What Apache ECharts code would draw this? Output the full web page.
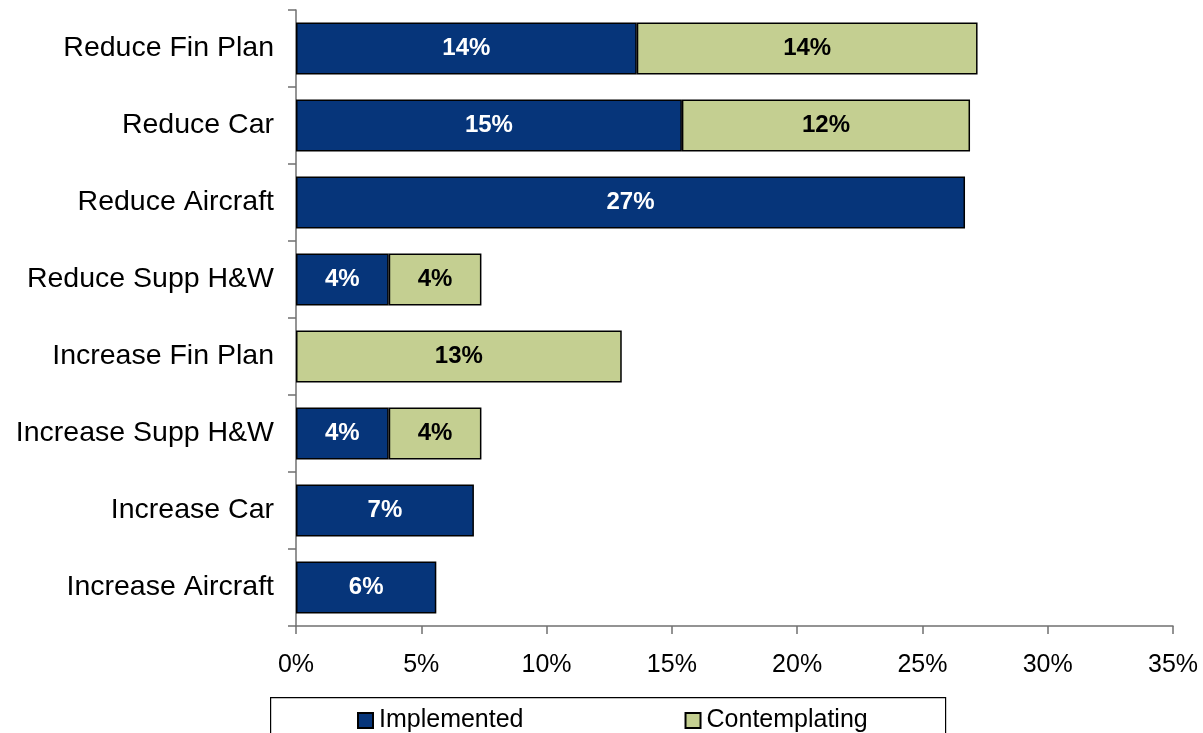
<!DOCTYPE html>
<html>
<head>
<meta charset="utf-8">
<script src="https://cdn.jsdelivr.net/npm/echarts@6/dist/echarts.min.js"></script>
<style>html,body{margin:0;padding:0;background:#fff;}#c{width:1203px;height:733px;}</style>
</head>
<body>
<div id="c"></div>
<script>
const categories = ["Reduce Fin Plan","Reduce Car","Reduce Aircraft","Reduce Supp H&W","Increase Fin Plan","Increase Supp H&W","Increase Car","Increase Aircraft"];
const implemented = [13.6, 15.4, 26.7, 3.7, 0, 3.7, 7.1, 5.6];
const contemplating = [13.6, 11.5, 0, 3.7, 13.0, 3.7, 0, 0];
const xTicks = [0, 5, 10, 15, 20, 25, 30, 35];

const FONT = '"Liberation Sans", Arial, sans-serif';
const chart = echarts.init(document.getElementById('c'), null, {renderer: 'canvas'});
const toData = arr => arr.map(v => v === 0 ? null : v);
const lbl = color => ({
  show: true, position: 'inside', color: color, fontFamily: FONT, fontWeight: 'bold', fontSize: 24,
  formatter: p => (p.value == null ? '' : Math.round(p.value) + '%')
});
chart.setOption({
  animation: false,
  backgroundColor: '#fff',
  grid: {left: 296, right: 30, top: 10, bottom: 107, containLabel: false},
  xAxis: {
    type: 'value', min: xTicks[0], max: xTicks[xTicks.length - 1], interval: 5,
    axisLine: {show: true, lineStyle: {color: '#707070', width: 1.5}},
    axisTick: {show: true, length: 8, lineStyle: {color: '#707070', width: 1.5}},
    splitLine: {show: false},
    axisLabel: {formatter: '{value}%', color: '#000', fontFamily: FONT, fontSize: 25, margin: 27}
  },
  yAxis: {
    type: 'category', data: categories, inverse: true,
    axisLine: {show: true, lineStyle: {color: '#707070', width: 1.5}},
    axisTick: {show: true, length: 8, lineStyle: {color: '#707070', width: 1.5}},
    axisLabel: {color: '#000', fontFamily: FONT, fontSize: 28.5, margin: 22}
  },
  legend: {
    left: 352, top: 703, itemWidth: 15, itemHeight: 15, itemGap: 161,
    icon: 'rect',
    textStyle: {color: '#000', fontFamily: FONT, fontSize: 25, padding: [0, 0, 0, 1]},
    data: ['Implemented', 'Contemplating']
  },
  graphic: [{
    type: 'rect', left: 270, top: 697, z: -1,
    shape: {width: 675, height: 60},
    style: {fill: '#fff', stroke: '#000', lineWidth: 1.2}
  }],
  series: [
    {name: 'Implemented', type: 'bar', stack: 's', data: toData(implemented), barWidth: '67.5%',
     itemStyle: {color: '#06357A', borderColor: '#000', borderWidth: 1.5}, label: lbl('#fff')},
    {name: 'Contemplating', type: 'bar', stack: 's', data: toData(contemplating), barWidth: '67.5%',
     itemStyle: {color: '#C4CF91', borderColor: '#000', borderWidth: 1.5}, label: lbl('#000')}
  ]
});
</script>
</body>
</html>
